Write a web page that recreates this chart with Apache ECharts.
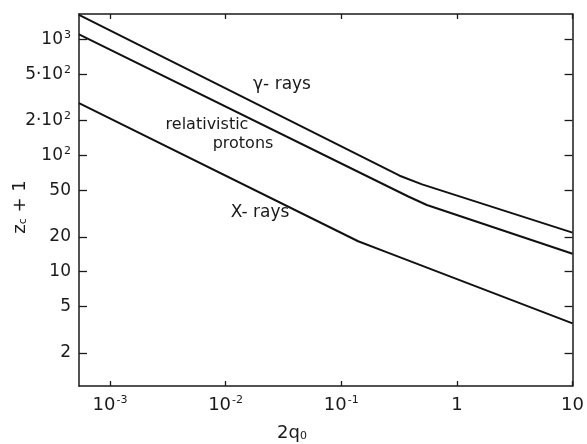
<!DOCTYPE html>
<html><head><meta charset="utf-8">
<script src="https://cdn.jsdelivr.net/npm/echarts@6/dist/echarts.min.js"></script>
<style>html,body{margin:0;padding:0;background:#fff}#c{width:587px;height:444px}</style>
</head><body><div id="c"></div>
<script>
// tick positions
const xTicks = [0.001, 0.01, 0.1, 1, 10];
const yTicks = [2, 5, 10, 20, 50, 100, 200, 500, 1000];
// curves [2q0, zc+1]
const gammaRays = [[5.4e-4, 1620], [0.32, 67], [0.5, 56.5], [10, 21.7]];
const protons = [[5.4e-4, 1104], [0.38, 44.4], [0.55, 37.5], [10, 14.3]];
const xRays = [[5.4e-4, 282], [0.14, 18.3], [0.24, 14.9], [10, 3.6]];

const FONT = 'DejaVu Sans';
const INK = '#1a1a1a';

function xFmt(v) {
  const e = Math.round(Math.log10(v));
  if (e === 0) return '1';
  if (e === 1) return '10';
  return '10{s|' + e + '}';
}
function yFmt(v) {
  const map = {1000: '10{s|3}', 500: '5·10{s|2}', 200: '2·10{s|2}', 100: '10{s|2}'};
  const k = Math.round(v);
  return map[k] !== undefined ? map[k] : String(k);
}
const rich = {s: {fontSize: 11, fontFamily: FONT, color: INK, verticalAlign: 'top', padding: [0, 0, 0, 1]}};

const axisLine = {show: true, lineStyle: {color: INK, width: 1.5}};
function xAxis(pos, labels) {
  return {
    type: 'log', position: pos, min: 5.4e-4, max: 10,
    axisLine: axisLine,
    axisTick: {show: true, inside: true, length: 5, customValues: xTicks, lineStyle: {color: INK, width: 1.3}},
    axisLabel: {show: labels, customValues: xTicks, formatter: xFmt, margin: 9, fontSize: 18, fontFamily: FONT, color: INK, lineHeight: 20, rich: rich},
    splitLine: {show: false}, minorTick: {show: false}
  };
}
function yAxis(pos, labels) {
  return {
    type: 'log', position: pos, min: 1.04, max: 1650,
    axisLine: axisLine,
    axisTick: {show: true, inside: true, length: 8, customValues: yTicks, lineStyle: {color: INK, width: 1.3}},
    axisLabel: {show: labels, customValues: yTicks, formatter: yFmt, margin: 8, fontSize: 17, fontFamily: FONT, color: INK, lineHeight: 20, rich: rich},
    splitLine: {show: false}, minorTick: {show: false}
  };
}
function line(name, data) {
  return {name: name, type: 'line', data: data, xAxisIndex: 0, yAxisIndex: 0,
    showSymbol: false, symbol: 'none', lineStyle: {color: '#111', width: 2}, silent: true};
}
function txt(text, x, y, size) {
  return {type: 'text', x: x, y: y, style: {text: text, fontSize: size || 16, fontFamily: FONT, fill: INK, align: 'center', verticalAlign: 'middle'}};
}

const chart = echarts.init(document.getElementById('c'), null, {renderer: 'canvas'});
chart.setOption({
  animation: false,
  backgroundColor: '#fff',
  grid: {left: 79, right: 13, top: 14, bottom: 58, containLabel: false},
  xAxis: [xAxis('bottom', true), xAxis('top', false)],
  yAxis: [yAxis('left', true), yAxis('right', false)],
  series: [line('γ- rays', gammaRays), line('relativistic protons', protons), line('X- rays', xRays)],
  graphic: [
    txt('γ- rays', 282, 85, 17),
    txt('relativistic', 207, 125, 16),
    txt('protons', 243, 144, 16),
    txt('X- rays', 260, 213, 17),
    {type: 'text', x: 292, y: 433, style: {text: '2q{sub|0}', fontSize: 18, fontFamily: FONT, fill: INK, align: 'center', verticalAlign: 'middle', rich: {sub: {fontSize: 11, fontFamily: FONT, fill: INK, verticalAlign: 'bottom'}}}},
    {type: 'text', x: 20, y: 207, rotation: Math.PI / 2, style: {text: 'z{sub|c} + 1', fontSize: 18, fontFamily: FONT, fill: INK, align: 'center', verticalAlign: 'middle', rich: {sub: {fontSize: 11, fontFamily: FONT, fill: INK, verticalAlign: 'bottom'}}}}
  ]
});
</script></body></html>
